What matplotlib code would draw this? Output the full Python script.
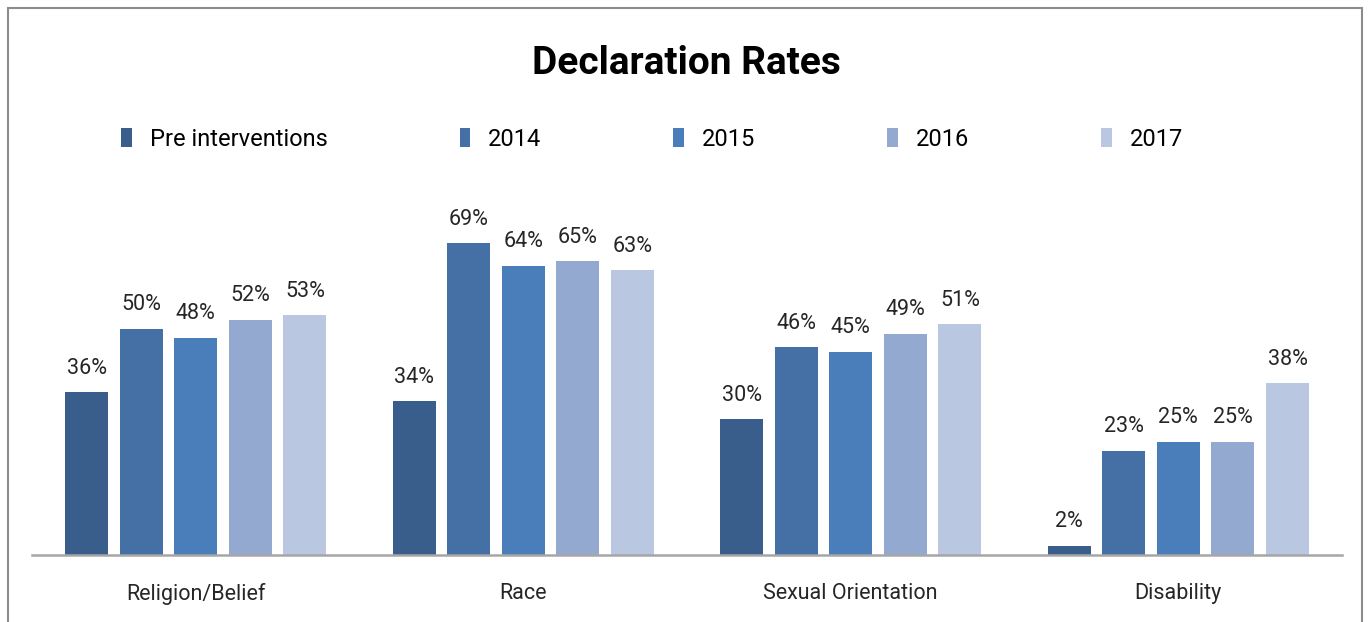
import matplotlib
matplotlib.use("Agg")
import matplotlib.pyplot as plt
import numpy as np
from matplotlib.patches import Patch, Rectangle
from matplotlib import font_manager

# Data
categories = ["Religion/Belief", "Race", "Sexual Orientation", "Disability"]
series_names = ["Pre interventions", "2014", "2015", "2016", "2017"]
pre_interventions = [36, 34, 30, 2]
y2014 = [50, 69, 46, 23]
y2015 = [48, 64, 45, 25]
y2016 = [52, 65, 49, 25]
y2017 = [53, 63, 51, 38]
colors = ["#3A5E8C", "#4470A5", "#4A7EBB", "#94A9D0", "#BAC7E1"]

# Pick a narrow, Calibri-like family if one is installed
installed = {f.name for f in font_manager.fontManager.ttflist}
family = "DejaVu Sans"
for name in ["Liberation Sans Narrow", "Roboto", "Lato", "Liberation Sans"]:
    if name in installed:
        family = name
        break
plt.rcParams["font.family"] = family

W, H = 1369, 622
fig = plt.figure(figsize=(W / 100, H / 100), dpi=100)

# Outer chart border (bottom edge is cropped off in the reference)
fig.patches.append(Rectangle((8 / W, -0.05), (1362 - 8) / W, 1.05 - 8 / H,
                             transform=fig.transFigure, fill=False,
                             edgecolor="#8C8C8C", linewidth=1.5, clip_on=False))

# Axes placed so the baseline sits at y=555px and spans x=32..1342
px_per_pct = 4.52
ymax = 80
ax = fig.add_axes([32 / W, (H - 555) / H, (1342 - 32) / W, ymax * px_per_pct / H])

series = [pre_interventions, y2014, y2015, y2016, y2017]
x = np.arange(len(categories))
pitch = 0.1667
width = 0.1315
for i, (vals, name, col) in enumerate(zip(series, series_names, colors)):
    xs = x + (i - 2) * pitch
    bars = ax.bar(xs, vals, width, color=col, label=name)
    for b, v in zip(bars, vals):
        ax.text(b.get_x() + b.get_width() / 2, v + 3.0, f"{v}%",
                ha="center", va="bottom", fontsize=15.5, color="#262626")

ax.set_xlim(-0.5, 3.5)
ax.set_ylim(0, ymax)
ax.set_yticks([])
ax.set_xticks(x)
ax.set_xticklabels(categories, fontsize=15.5, color="#262626")
ax.tick_params(axis="x", length=0, pad=20)
for s in ["top", "left", "right"]:
    ax.spines[s].set_visible(False)
ax.spines["bottom"].set_color("#A6A6A6")
ax.spines["bottom"].set_linewidth(1.8)

fig.text(686 / W, 1 - 63 / H, "Declaration Rates", ha="center", va="center",
         fontsize=28, fontweight="bold", color="black")

handles = [Patch(facecolor=c, edgecolor="none") for c in colors]
fig.legend(handles, series_names, loc="center", bbox_to_anchor=(652 / W, 1 - 139 / H),
           ncol=5, frameon=False, fontsize=17, handlelength=0.45, handleheight=0.85,
           handletextpad=0.75, columnspacing=5.6)

fig.savefig("out.png", dpi=100)
